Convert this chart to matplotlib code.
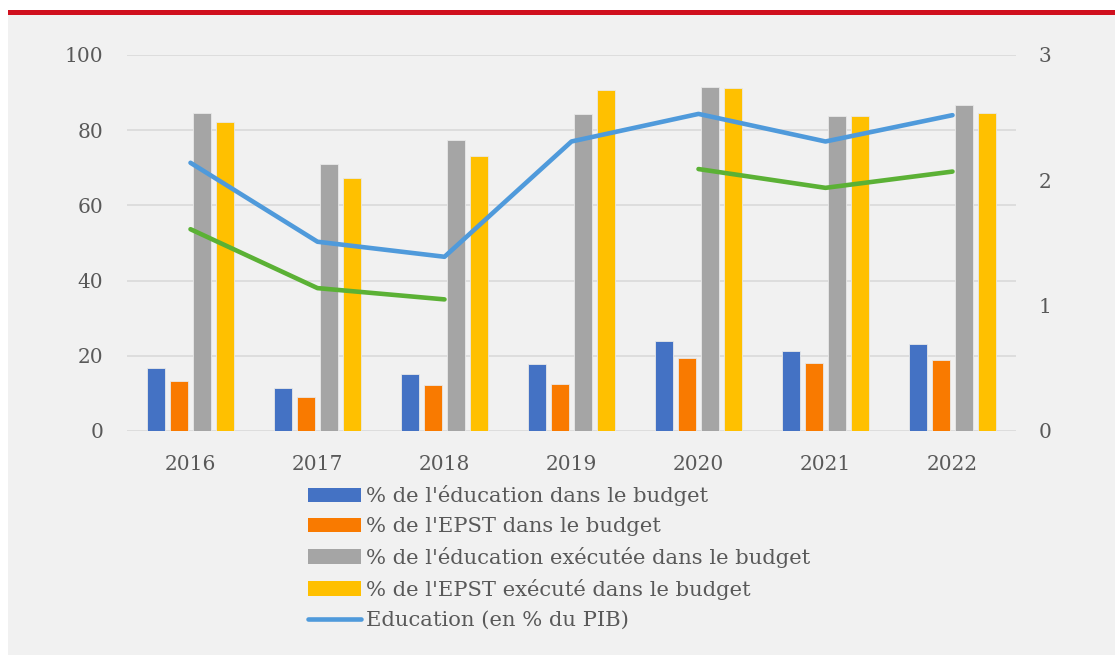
import numpy as np
import matplotlib.pyplot as plt
from matplotlib.patches import Patch
from matplotlib.lines import Line2D

years = ['2016', '2017', '2018', '2019', '2020', '2021', '2022']
educ_budget = [16.8, 11.5, 15.2, 17.7, 23.9, 21.4, 23.1]
epst_budget = [13.2, 9.0, 12.2, 12.5, 19.3, 18.1, 18.8]
educ_exec = [84.5, 70.9, 77.3, 84.3, 91.6, 83.8, 86.7]
epst_exec = [82.1, 67.4, 73.1, 90.7, 91.2, 83.8, 84.5]
educ_pib = [2.14, 1.51, 1.39, 2.31, 2.53, 2.31, 2.52]
green_line = [1.61, 1.14, 1.05, np.nan, 2.09, 1.94, 2.07]

labels = ["% de l'éducation dans le budget",
          "% de l'EPST dans le budget",
          "% de l'éducation exécutée dans le budget",
          "% de l'EPST exécuté dans le budget",
          "Education (en % du PIB)"]
colors = ['#4472C4', '#F97A00', '#A5A5A5', '#FFC000']
txt = '#595959'
bg = '#f1f1f1'

plt.rcParams['font.family'] = ['DejaVu Serif']

fig = plt.figure(figsize=(11.15, 6.55), dpi=100)
fig.patch.set_facecolor('white')
# grey panel and red rule at the top
fig.patches.append(plt.Rectangle((8 / 1115, 0), 1, 1 - 10 / 655, transform=fig.transFigure,
                                 facecolor=bg, edgecolor='none', zorder=-2))
fig.patches.append(plt.Rectangle((8 / 1115, 1 - 15 / 655), 1, 5 / 655, transform=fig.transFigure,
                                 facecolor='#D0101E', edgecolor='none', zorder=-1))

ax = fig.add_axes([127 / 1115, 1 - 431 / 655, 889 / 1115, 376 / 655])
ax.set_facecolor('none')
x = np.arange(len(years))
w = 0.142
step = 0.181
series = [educ_budget, epst_budget, educ_exec, epst_exec]
for i, (vals, c) in enumerate(zip(series, colors)):
    ax.bar(x + (i - 1.5) * step, vals, width=w, color=c, edgecolor='#e8e8e8',
           linewidth=0.6, zorder=3)

ax.set_ylim(0, 100)
ax.set_xlim(-0.5, len(years) - 0.5)
ax.set_yticks(range(0, 101, 20))
ax.set_xticks(x)
ax.set_xticklabels(years)
ax.grid(axis='y', color='#d9d9d9', linewidth=1.2, zorder=0)
ax.tick_params(axis='y', length=0, pad=17, labelsize=14.5, labelcolor=txt)
ax.tick_params(axis='x', length=0, pad=17, labelsize=14.5, labelcolor=txt)
for s in ax.spines.values():
    s.set_visible(False)

ax2 = ax.twinx()
ax2.plot(x, educ_pib, color='#4F9ADB', linewidth=3.3, zorder=4, solid_capstyle='round')
ax2.plot(x, green_line, color='#5BB135', linewidth=3.3, zorder=4, solid_capstyle='round')
ax2.set_ylim(0, 3)
ax2.set_yticks([0, 1, 2, 3])
ax2.tick_params(axis='y', length=0, pad=16, labelsize=14.5, labelcolor=txt)
for s in ax2.spines.values():
    s.set_visible(False)

handles = [Patch(facecolor=c, edgecolor='none') for c in colors]
handles.append(Line2D([0], [0], color='#4F9ADB', linewidth=3.3, solid_capstyle='round'))
leg = fig.legend(handles, labels, loc='upper left', bbox_to_anchor=(308 / 1115, 1 - 485 / 655),
                 frameon=False, fontsize=15.2, handlelength=2.5, handleheight=0.65,
                 handletextpad=0.25, labelspacing=0.52, borderpad=0, borderaxespad=0)
for t in leg.get_texts():
    t.set_color(txt)

fig.savefig('out.png', dpi=100, facecolor=fig.get_facecolor())
